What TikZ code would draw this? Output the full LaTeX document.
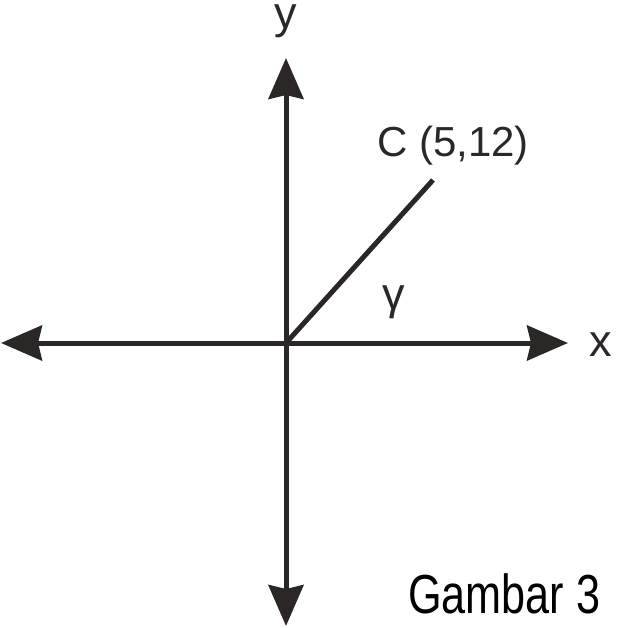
\documentclass[tikz,border=0pt]{standalone}
\usepackage{fontspec}
\setmainfont{Liberation Sans}
\usetikzlibrary{arrows.meta}
\definecolor{ink}{HTML}{2B2727}
\tikzset{
  axis/.style={line width=5pt, draw=ink, {Stealth[length=41pt,width=35pt,inset=4pt]}-{Stealth[length=41pt,width=35pt,inset=4pt]}},
  seg/.style={line width=5pt, draw=ink},
  lbl/.style={inner sep=0pt, text=ink, font=\fontsize{45}{50}\selectfont}
}
\begin{document}
\begin{tikzpicture}[x=1pt,y=-1pt]
\useasboundingbox (0,0) rectangle (616,628);
\coordinate (O) at (286,343);
\coordinate (L) at (1,343);
\coordinate (R) at (568,343);
\coordinate (T) at (286,58);
\coordinate (B) at (286,626);
\coordinate (C) at (433,180);
\draw[axis] (L) -- (R);
\draw[axis] (T) -- (B);
\draw[seg, line cap=butt] (O) -- (C);
\node[lbl, anchor=base] (ylab) at (286,29) {y};
\node[lbl, anchor=base] (xlab) at (601,356) {x};
\node[lbl, anchor=base west, font=\fontsize{42}{48}\selectfont] (clab) at (377,157) {C (5,12)};
\node[lbl, anchor=base west] (glab) at (382,309) {γ};
\node[lbl, anchor=base west, text=black, font=\fontsize{55}{60}\selectfont] (cap) at (408,613) {\scalebox{0.785}[1]{Gambar 3}};
\end{tikzpicture}
\end{document}
